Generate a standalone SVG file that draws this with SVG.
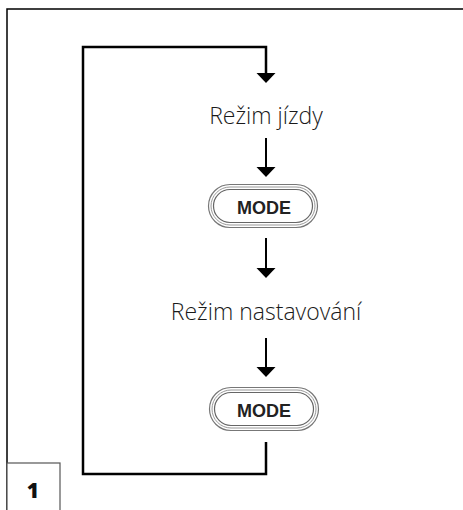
<svg xmlns="http://www.w3.org/2000/svg" width="463" height="510" viewBox="0 0 463 510">
<style>
.ln{fill:none;stroke:#000;stroke-width:2.5}
.sh{fill:none;stroke:#000;stroke-width:2}
.lbl{font-family:"Open Sans",sans-serif;font-size:23px;fill:#1a1a1a;text-anchor:middle;font-weight:300}
.btn{font-family:"Liberation Sans",Arial,sans-serif;font-size:18px;font-weight:bold;fill:#222;text-anchor:middle}
.p1{fill:#fff;stroke:#777;stroke-width:1.2}
.p2{fill:none;stroke:#999;stroke-width:1}
.p3{fill:none;stroke:#666;stroke-width:1.2}
</style>
<defs>
<symbol id="pill" viewBox="0 0 110 44" width="110" height="44" overflow="visible">
<rect class="p1" x="0.5" y="0.5" width="109" height="43" rx="21.5"/>
<rect class="p2" x="3" y="3" width="104" height="38" rx="19"/>
<rect class="p3" x="5.5" y="5.5" width="99" height="33" rx="16.5"/>
</symbol>
</defs>
<g id="frame">
<path d="M7 510V9H463" fill="none" stroke="#000" stroke-width="1.5"/>
</g>
<g id="connectors">
<path class="ln" d="M266 442V474H83V47H266V74"/>
<polygon points="256.5,73 275.5,73 266,83"/>
<path class="sh" d="M266 138V168"/>
<polygon points="256.5,167 275.5,167 266,177"/>
<path class="sh" d="M266 238V269"/>
<polygon points="256.5,268 275.5,268 266,278"/>
<path class="sh" d="M266 338V368"/>
<polygon points="256.5,367 275.5,367 266,377"/>
</g>
<g id="node-rezim-jizdy">
<text class="lbl" x="266" y="124">Režim jízdy</text>
</g>
<g id="node-mode-1">
<use href="#pill" x="208" y="184"/>
<text class="btn" x="264" y="214">MODE</text>
</g>
<g id="node-rezim-nastavovani">
<text class="lbl" x="266" y="320">Režim nastavování</text>
</g>
<g id="node-mode-2">
<use href="#pill" x="209" y="387"/>
<text class="btn" x="264" y="417">MODE</text>
</g>
<g id="label-1">
<rect x="7" y="463" width="53" height="50" fill="#fff" stroke="#555" stroke-width="1.2"/>
<text x="33" y="498" font-family="'Open Sans',sans-serif" font-weight="800" font-size="21" text-anchor="middle" fill="#111">1</text>
</g>
</svg>
